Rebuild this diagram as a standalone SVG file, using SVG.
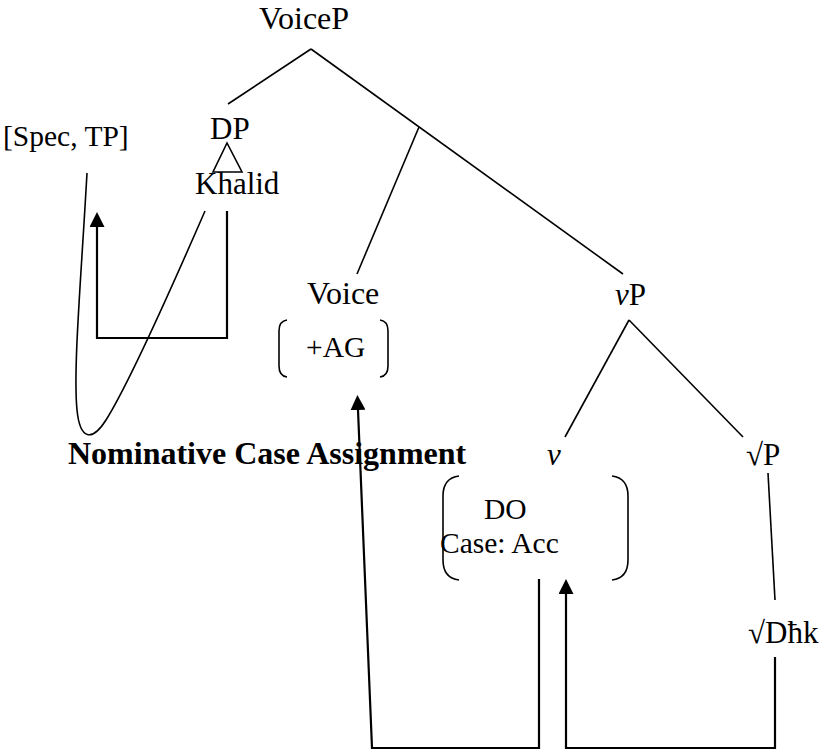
<svg xmlns="http://www.w3.org/2000/svg" width="822" height="751" viewBox="0 0 822 751">
  <style>
    text { font-family: "Liberation Serif", "Times New Roman", serif; fill: #000; }
    .t32 { font-size: 32px; }
    .t31 { font-size: 31px; }
    .t29 { font-size: 29.5px; }
    .bold { font-weight: bold; }
    .it { font-style: italic; }
    .branch { fill: none; stroke: #000; stroke-width: 1.6; }
    .move { fill: none; stroke: #000; stroke-width: 2.2; stroke-linejoin: miter; }
    .bracket { fill: none; stroke: #000; stroke-width: 1.6; }
  </style>
  <defs>
    <marker id="head" viewBox="0 0 10 10" refX="0" refY="5" markerWidth="15" markerHeight="15" markerUnits="userSpaceOnUse" orient="auto">
      <path d="M0,0 L10,5 L0,10 z" fill="#000"/>
    </marker>
  </defs>

  <!-- tree branches -->
  <g id="connectors">
    <line class="branch" x1="311" y1="49" x2="228" y2="104"/>
    <line class="branch" x1="311" y1="49" x2="623" y2="274"/>
    <line class="branch" x1="419" y1="127" x2="357" y2="274"/>
    <line class="branch" x1="629" y1="320" x2="565" y2="437"/>
    <line class="branch" x1="629" y1="320" x2="743" y2="437"/>
    <line class="branch" x1="768" y1="473" x2="775" y2="600"/>
    <!-- DP triangle -->
    <polygon class="branch" points="227,143 213,172 242,172"/>
    <!-- loop from Khalid to [Spec, TP] -->
    <path class="branch" d="M 87 173 C 81 280, 73 370, 77 410 C 80 440, 92 442, 106 420 C 130 382, 175 280, 205 211"/>
    <!-- movement to [Spec, TP] -->
    <path class="move" d="M 227 211 L 227 338 L 97 338 L 97 227" marker-end="url(#head)"/>
    <!-- Agree from v to Voice -->
    <path class="move" d="M 539 579 L 539 748 L 372 748 L 358 410" marker-end="url(#head)"/>
    <!-- root to v -->
    <path class="move" d="M 775 657 L 775 748 L 566 748 L 566 594" marker-end="url(#head)"/>
  </g>

  <g id="n-voicep"><text class="t32" x="259" y="29">VoiceP</text></g>
  <g id="n-spectp"><text class="t29" x="3" y="146">[Spec, TP]</text></g>
  <g id="n-dp"><text class="t31" x="210" y="139">DP</text></g>
  <g id="n-khalid"><text class="t31" x="195" y="194">Khalid</text></g>
  <g id="n-voice">
    <text class="t32" x="307" y="304">Voice</text>
    <path class="bracket" d="M 287 320 Q 279 321 279 331 L 279 366 Q 279 376 287 377"/>
    <path class="bracket" d="M 380 320 Q 388 321 388 331 L 388 366 Q 388 376 380 377"/>
    <text class="t29" x="306" y="357">+AG</text>
  </g>
  <g id="n-vp"><text class="t31" x="615" y="305"><tspan class="it">v</tspan>P</text></g>
  <g id="n-label"><text class="t32 bold" x="68" y="464">Nominative Case Assignment</text></g>
  <g id="n-v">
    <text class="t31 it" x="547" y="465">v</text>
    <path class="bracket" d="M 459 476 Q 443 478 443 496 L 443 560 Q 443 578 459 580"/>
    <path class="bracket" d="M 612 476 Q 628 478 628 496 L 628 560 Q 628 578 612 580"/>
    <text class="t29" x="484" y="519">DO</text>
    <text class="t29" x="440" y="553">Case: Acc</text>
  </g>
  <g id="n-rootp"><text class="t31" x="746" y="465">√P</text></g>
  <g id="n-root"><text class="t31" x="748" y="643">√Dħk</text></g>
</svg>
